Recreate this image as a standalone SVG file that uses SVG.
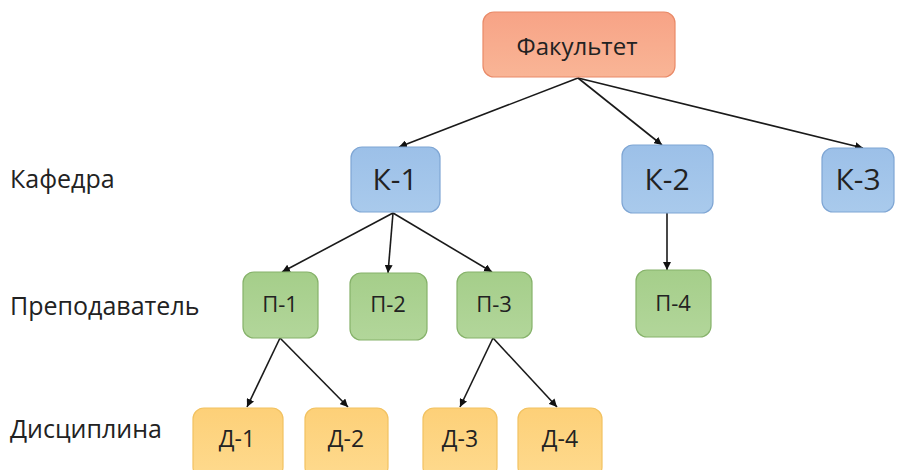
<svg xmlns="http://www.w3.org/2000/svg" width="899" height="470" viewBox="0 0 899 470">
<defs>
<marker id="ah" viewBox="0 0 10 10" refX="10" refY="5" markerWidth="8" markerHeight="8" markerUnits="userSpaceOnUse" orient="auto">
<path d="M0,0 L10,5 L0,10 z" fill="#111"/>
</marker>
<linearGradient id="gF" x1="0" y1="0" x2="0" y2="1"><stop offset="0" stop-color="#F7A386"/><stop offset="1" stop-color="#F9B596"/></linearGradient>
<linearGradient id="gK" x1="0" y1="0" x2="0" y2="1"><stop offset="0" stop-color="#9CC0E8"/><stop offset="1" stop-color="#A9CAEC"/></linearGradient>
<linearGradient id="gP" x1="0" y1="0" x2="0" y2="1"><stop offset="0" stop-color="#A5CE8A"/><stop offset="1" stop-color="#B2D69A"/></linearGradient>
<linearGradient id="gD" x1="0" y1="0" x2="0" y2="1"><stop offset="0" stop-color="#FDD078"/><stop offset="1" stop-color="#FEDA8E"/></linearGradient>
</defs>
<style>
.t{font-family:"Open Sans","Noto Sans",sans-serif;fill:#222;text-anchor:middle}
.lab{font-family:"Open Sans","Noto Sans",sans-serif;fill:#222;font-size:25px}
.f{fill:url(#gF);stroke:#E98A68;stroke-width:1.2}
.k{fill:url(#gK);stroke:#7FA6D4;stroke-width:1.2}
.p{fill:url(#gP);stroke:#86B26A;stroke-width:1.2}
.d{fill:url(#gD);stroke:#F2C261;stroke-width:1.2}
.c line{stroke:#1a1a1a;stroke-width:1.6;marker-end:url(#ah)}
</style>
<rect width="899" height="470" fill="#fff"/>
<text class="lab" x="10" y="188">Кафедра</text>
<text class="lab" x="10" y="315">Преподаватель</text>
<text class="lab" x="10" y="438">Дисциплина</text>
<g class="c">
<line x1="578" y1="78" x2="399" y2="147"/>
<line x1="578" y1="78" x2="662" y2="145"/>
<line x1="578" y1="78" x2="863" y2="148"/>
<line x1="393" y1="213" x2="282" y2="272"/>
<line x1="393" y1="213" x2="388" y2="273"/>
<line x1="393" y1="213" x2="492" y2="272"/>
<line x1="667" y1="213" x2="667" y2="270"/>
<line x1="280" y1="338" x2="247" y2="407"/>
<line x1="280" y1="338" x2="348" y2="407"/>
<line x1="493" y1="338" x2="460" y2="407"/>
<line x1="493" y1="338" x2="557" y2="407"/>
</g>
<g id="fak"><rect class="f" x="483" y="12" width="192" height="65" rx="11"/><text class="t" x="577" y="55" font-size="24">Факультет</text></g>
<g id="k1"><rect class="k" x="351" y="147" width="89" height="65" rx="11"/><text class="t" x="395" y="190" font-size="30">К-1</text></g>
<g id="k2"><rect class="k" x="622" y="145" width="91" height="68" rx="11"/><text class="t" x="667" y="190" font-size="30">К-2</text></g>
<g id="k3"><rect class="k" x="822" y="148" width="72" height="64" rx="11"/><text class="t" x="858" y="190" font-size="30">К-3</text></g>
<g id="p1"><rect class="p" x="243" y="272" width="75" height="66" rx="11"/><text class="t" x="280" y="312" font-size="22">П-1</text></g>
<g id="p2"><rect class="p" x="350" y="273" width="77" height="67" rx="11"/><text class="t" x="388" y="312" font-size="22">П-2</text></g>
<g id="p3"><rect class="p" x="457" y="272" width="75" height="66" rx="11"/><text class="t" x="494" y="312" font-size="22">П-3</text></g>
<g id="p4"><rect class="p" x="636" y="270" width="75" height="67" rx="11"/><text class="t" x="673" y="311" font-size="22">П-4</text></g>
<g id="d1"><rect class="d" x="193" y="408" width="90" height="70" rx="11"/><text class="t" x="237" y="447" font-size="23">Д-1</text></g>
<g id="d2"><rect class="d" x="305" y="408" width="83" height="70" rx="11"/><text class="t" x="346" y="447" font-size="23">Д-2</text></g>
<g id="d3"><rect class="d" x="423" y="408" width="74" height="70" rx="11"/><text class="t" x="460" y="447" font-size="23">Д-3</text></g>
<g id="d4"><rect class="d" x="518" y="408" width="84" height="70" rx="11"/><text class="t" x="560" y="447" font-size="23">Д-4</text></g>
</svg>
